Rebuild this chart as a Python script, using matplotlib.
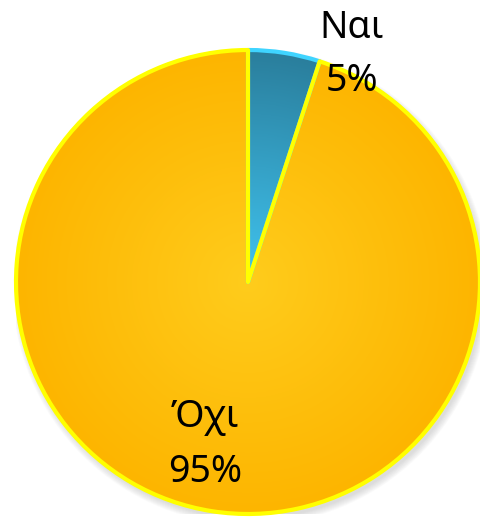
import numpy as np
import matplotlib
matplotlib.use('Agg')
import matplotlib.pyplot as plt
from matplotlib.colors import LinearSegmentedColormap
from matplotlib.patches import Circle

plt.rcParams['font.family'] = ['Noto Sans', 'DejaVu Sans']

labels = ['Ναι', 'Όχι']
values = [5, 95]
pct_labels = ['5%', '95%']

edge_colors = ['#3FD4FF', '#FFFF00']
grad_colors = [('#40C4F0', '#2A7E9C'), ('#FFCC1C', '#FDB500')]

fig = plt.figure(figsize=(4.81, 5.24), dpi=100)
ax = fig.add_axes([16 / 481, 10 / 524, 464 / 481, 464 / 524])
ax.set_xlim(-1, 1)
ax.set_ylim(-1, 1)
ax.set_aspect('equal')
ax.axis('off')

# soft shadow under the pie
for i in range(8):
    ax.add_patch(Circle((0.012, -0.02), 1.0 + 0.004 * i, color='#808080',
                        alpha=0.035, zorder=0, lw=0))

wedges, _ = ax.pie(values, startangle=90, counterclock=False, radius=1.0,
                   colors=['none', 'none'],
                   wedgeprops=dict(linewidth=0))

# radial gradient fill, clipped to each wedge
yy, xx = np.mgrid[-1:1:400j, -1:1:400j]
rr = np.sqrt(xx ** 2 + yy ** 2)
for w, (c_in, c_out) in zip(wedges, grad_colors):
    cmap = LinearSegmentedColormap.from_list('g', [c_in, c_out])
    im = ax.imshow(rr, cmap=cmap, vmin=0, vmax=1, extent=[-1, 1, -1, 1],
                   origin='lower', zorder=2, interpolation='bilinear')
    im.set_clip_path(w)

# outlines on top
wedges2, _ = ax.pie(values, startangle=90, counterclock=False, radius=1.0,
                    colors=['none', 'none'],
                    wedgeprops=dict(linewidth=3))
for w, ec in zip(wedges2, edge_colors):
    w.set_facecolor('none')
    w.set_edgecolor(ec)
    w.set_zorder(3)
    w.set_joinstyle('round')
# yellow outline drawn last so it sits on top of the blue edge
wedges2[1].set_zorder(4)

ax.set_xlim(-1, 1)
ax.set_ylim(-1, 1)

# labels
label_pos = [(0.448, 1.095), (-0.185, -0.58)]
pct_pos = [(0.448, 0.865), (-0.185, -0.82)]
for lab, pct, lp, pp in zip(labels, pct_labels, label_pos, pct_pos):
    ax.text(lp[0], lp[1], lab, ha='center', va='center', fontsize=27,
            color='black', zorder=5, clip_on=False)
    ax.text(pp[0], pp[1], pct, ha='center', va='center', fontsize=27,
            color='black', zorder=5, clip_on=False)

fig.savefig('out.png', dpi=100)
